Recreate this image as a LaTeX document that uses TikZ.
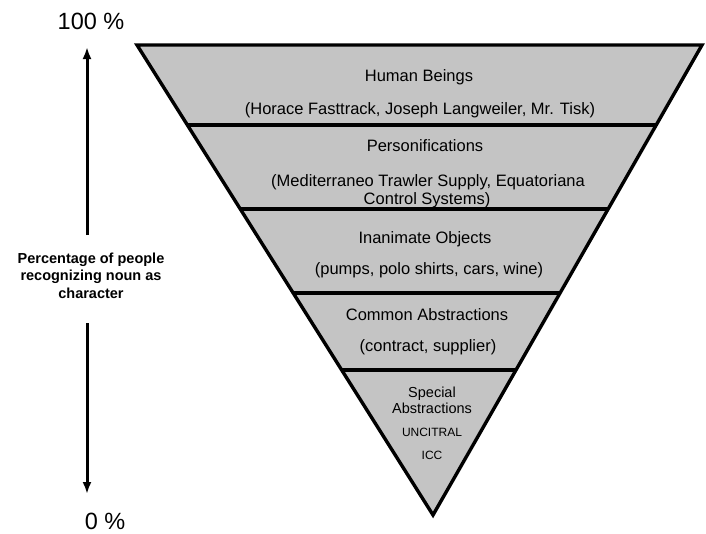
\documentclass[tikz,border=0pt]{standalone}
\usepackage{fontspec}
\setmainfont{Liberation Sans}
\usetikzlibrary{arrows.meta,calc}
\begin{document}
\begin{tikzpicture}[x=1pt,y=-1pt,
 lbl/.style={anchor=base,inner sep=0pt,font=\fontsize{16.5}{19}\selectfont},
 sml/.style={anchor=base,inner sep=0pt,font=\fontsize{14.5}{17}\selectfont},
 tinytxt/.style={anchor=base,inner sep=0pt,font=\fontsize{12}{14}\selectfont},
 pcttxt/.style={anchor=base,inner sep=0pt,font=\fontsize{23.5}{26}\selectfont},
 sidetxt/.style={anchor=base,inner sep=0pt,align=center,font=\bfseries\fontsize{14.5}{17.5}\selectfont},
 edgeline/.style={line width=3.4pt,line join=miter},
 sepline/.style={line width=3.8pt},
 axisarrow/.style={line width=3pt,-{Latex[length=12pt,width=9pt]}},
 fillc/.style={fill=black!23}
]
\useasboundingbox (0,0) rectangle (706,533);
% triangle corners
\coordinate (TL) at (137,45);
\coordinate (TR) at (702,45);
\coordinate (A) at (433,515);
\fill[fillc] (TL) -- (TR) -- (A) -- cycle;
% separators
\foreach \t/\n in {0.170/s1,0.349/s2,0.528/s3,0.691/s4}{
  \coordinate (\n L) at ($(TL)!\t!(A)$);
  \coordinate (\n R) at ($(TR)!\t!(A)$);
  \draw[sepline] (\n L) -- (\n R);
}
\draw[edgeline] (TL) -- (TR) -- (A) -- cycle;
% layer texts
\node[lbl] (hb) at (419,81) {Human Beings};
\node[lbl] (hbx) at (420,114) {(Horace Fasttrack, Joseph Langweiler, Mr. Tisk)};
\node[lbl] (pe) at (425,151) {Personifications};
\node[lbl] (pex1) at (428,186) {(Mediterraneo Trawler Supply, Equatoriana};
\node[lbl] (pex2) at (427,204) {Control Systems)};
\node[lbl] (io) at (425,243) {Inanimate Objects};
\node[lbl] (iox) at (429,274) {(pumps, polo shirts, cars, wine)};
\node[lbl] (ca) at (427,320) {Common Abstractions};
\node[lbl] (cax) at (428,351) {(contract, supplier)};
\node[sml] (sa1) at (432,397) {Special};
\node[sml] (sa2) at (432,413) {Abstractions};
\node[tinytxt] (sa3) at (432,436) {UNCITRAL};
\node[tinytxt] (sa4) at (432,459) {ICC};
% axis
\node[pcttxt] (top) at (91,29) {100 \%};
\node[pcttxt] (bot) at (105,529) {0 \%};
\node[sidetxt] (side) at (91,298) {Percentage of people\\recognizing noun as\\character};
\coordinate (up0) at (87,235);
\coordinate (up1) at (87,47);
\coordinate (dn0) at (87,323);
\coordinate (dn1) at (87,494);
\draw[axisarrow] (up0) -- (up1);
\draw[axisarrow] (dn0) -- (dn1);
\end{tikzpicture}
\end{document}
